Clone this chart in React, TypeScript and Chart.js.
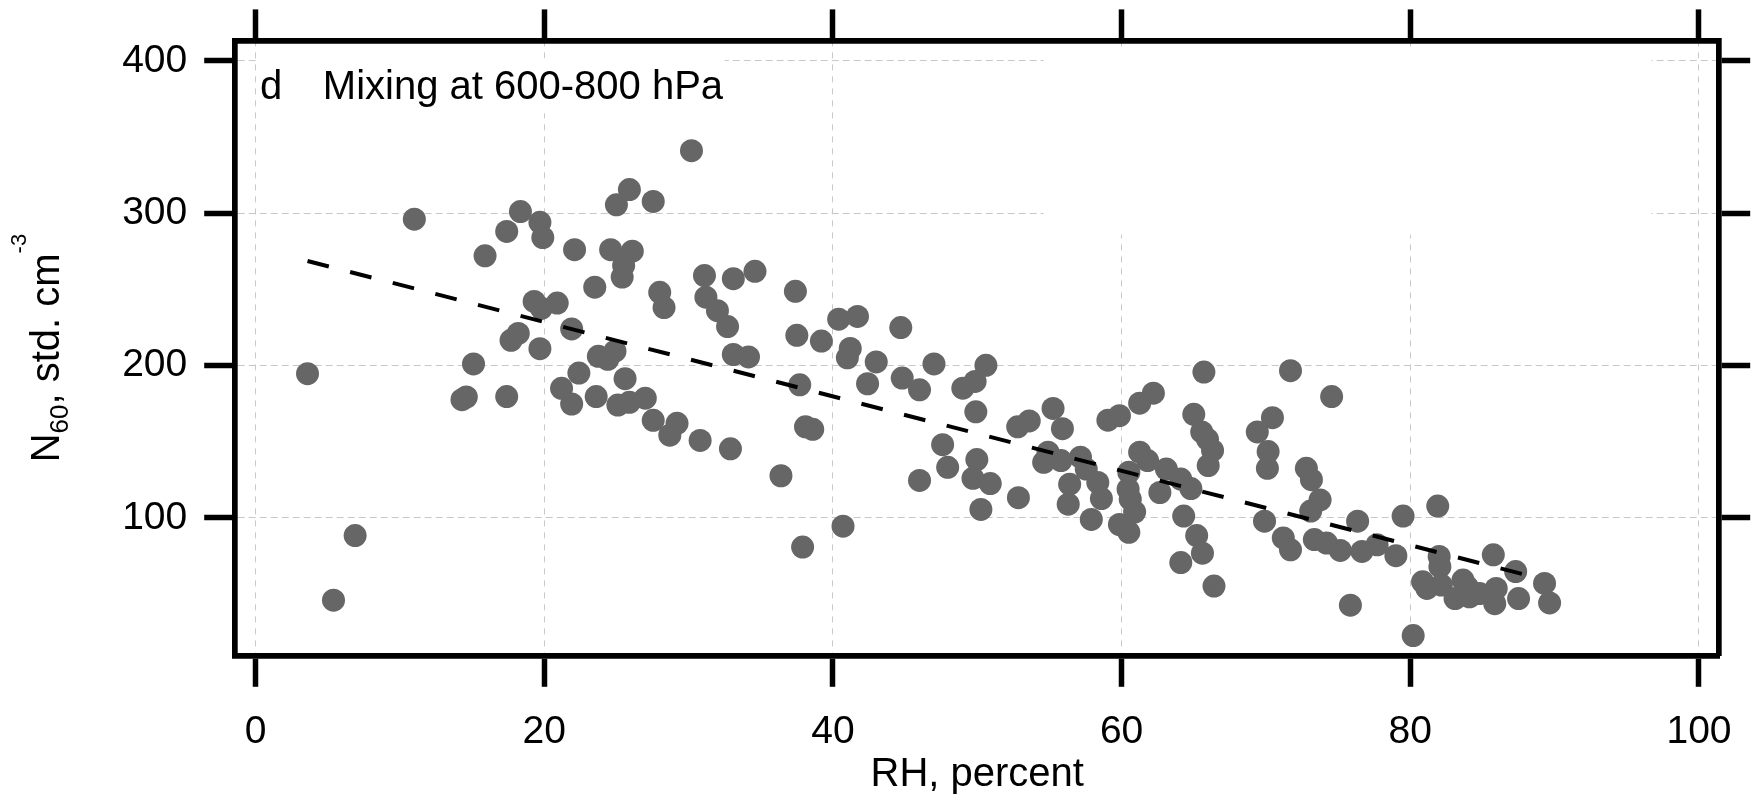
import React, { useEffect, useRef } from 'react';
import { Chart, registerables } from 'chart.js';

Chart.register(...registerables);

// ---- data ----
const rhValues: number[] = [
  11.0, 18.35, 19.7, 19.9, 17.4, 15.9, 22.1, 19.3, 19.8, 20.9, 21.9, 18.2, 17.7, 19.7, 15.1, 3.6, 14.3, 14.6, 17.4, 22.4, 21.2, 21.9, 6.9, 5.4,
  30.2, 25.9, 25.0, 27.55, 24.6, 26.1, 25.5, 25.4, 23.5, 28.0, 28.3, 31.1, 33.1, 34.6, 31.2, 32.0, 32.7, 37.4, 37.5, 39.2, 40.4, 41.7, 44.7, 41.2, 41.0, 43.0, 42.4, 44.8, 46.0,
  23.75, 24.9, 24.4, 25.6, 23.6, 25.1, 25.9, 27.0, 27.55, 28.7, 29.2, 30.8, 32.9, 33.1, 34.15, 37.7, 38.1, 38.6, 36.4, 37.9, 40.7, 46.0,
  47.0, 50.6, 49.85, 49.0, 49.9, 47.6, 47.95, 49.97, 49.7, 50.9, 50.25, 52.85, 52.8, 53.6, 55.25, 55.9, 54.9, 54.6, 55.8, 57.15, 57.55, 56.4, 58.35, 56.3, 58.6, 57.9,
  59.05, 59.85, 61.25, 62.2, 61.25, 61.8, 60.5, 60.45, 60.6, 60.9, 59.85, 60.5, 63.1, 64.1, 64.8, 62.65, 64.3, 65.2, 65.6, 64.1, 66.4, 65.7, 65.0, 65.55, 65.95, 66.3, 66.0,
  71.7, 74.55, 70.45, 69.4, 70.15, 70.1, 72.8, 73.15, 73.75, 73.1, 69.9, 71.2, 71.7, 73.35, 74.2, 75.15, 76.35, 76.65, 77.7, 79.0, 75.85, 79.5, 81.9, 80.2,
  82.0, 82.05, 80.85, 81.15, 82.15, 83.65, 83.1, 84.1, 84.8, 85.75, 85.95, 85.85, 87.5, 87.3, 89.3, 89.65, 83.95,
];
const n60Values: number[] = [
  296, 301, 294, 284, 288, 272, 276, 242, 237.5, 241, 224, 221, 216.5, 211, 201, 194.6, 177.5, 179.3, 179.6, 195, 185, 174.7, 88.3, 45.9,
  341, 315.5, 305.5, 307.7, 276, 275, 265.7, 258, 251.4, 248, 238, 259, 257, 261.8, 244.8, 236, 225.5, 248.7, 219.8, 216, 230.4, 232.2, 224.9, 211.2, 205, 202.3, 188, 191.7, 184,
  206, 209.4, 204, 191.3, 179.6, 174, 175.8, 178.5, 164, 154.2, 162, 150.8, 145.3, 207.2, 205.6, 187.3, 159.7, 158.1, 127.6, 80.8, 94.5, 124.5,
  201, 200.1, 189.5, 185.1, 169.6, 148, 133.1, 138.2, 125.9, 122.5, 105.5, 113.2, 159.7, 163.6, 171.8, 158.5, 143.1, 136.4, 137.6, 139.8, 132, 122.1, 123.2, 108.9, 112.6, 98.9,
  164.1, 167, 175.2, 181.8, 143.1, 137.6, 129.9, 118.8, 112.2, 103.8, 95.6, 90.5, 132, 125.4, 119.2, 116.6, 101.1, 88.3, 76.8, 70.6, 55.2, 195.7, 167.9, 156.4, 151.5, 144.2, 134.3,
  196.6, 179.6, 165.7, 156.4, 143.5, 132.5, 132.5, 125, 111.7, 104.4, 97.8, 86.8, 79, 85.7, 83.4, 78.6, 97.8, 77.9, 82.3, 75.1, 42.6, 101.1, 107.7, 22.7,
  74.6, 67.9, 58, 53.6, 55.8, 59.1, 47, 48.1, 50.3, 75.7, 53.6, 43.6, 47, 64.7, 56.9, 44.1, 54.7,
];

// dashed regression line end points
const fitRh: number[] = [3.6, 89.1];
const fitN60: number[] = [268.6, 59.8];

// axes
const xTickValues: number[] = [0, 20, 40, 60, 80, 100];
const yTickValues: number[] = [100, 200, 300, 400];
const xRange: number[] = [-1.41, 101.4];
const yRange: number[] = [9.4, 413.4];

// texts
const panelLabel = 'd';
const panelTitle = 'Mixing at 600-800 hPa';
const xAxisTitle = 'RH, percent';
const yTitleMain = 'N';
const yTitleSub = '60';
const yTitleRest = ', std. cm';
const yTitleSup = '-3';

// layout / style (in data units where tied to the plot)
const labelAnchor = { x: 0.3, y: 374.9 };
const titleAnchor = { x: 4.66, y: 374.9 };
const gridMasks = [
  { x0: 0.1, x1: 32.5, y0: 365.5, y1: 401.5 },
  { x0: 54.6, x1: 96.7, y0: 285.8, y1: 407.4 },
];

const W = 1754;
const H = 796;
const AREA = { left: 235.2, right: 1725.5, top: 37.8, bottom: 655.8 };
const FAMILY = "'Liberation Sans', Arial, sans-serif";
const FRAME_W = 5.7;
const TICK_W = 5.5;
const TICK_LEN = 31;

export default function App() {
  const ref = useRef<HTMLCanvasElement>(null);

  useEffect(() => {
    const canvas = ref.current;
    if (!canvas) return;

    const maskPlugin = {
      id: 'gridMask',
      beforeDatasetsDraw(chart: any) {
        const { ctx } = chart;
        const x = chart.scales.x;
        const y = chart.scales.y;
        ctx.save();
        ctx.fillStyle = '#ffffff';
        for (const m of gridMasks) {
          const px0 = x.getPixelForValue(m.x0);
          const px1 = x.getPixelForValue(m.x1);
          const py0 = y.getPixelForValue(m.y1);
          const py1 = y.getPixelForValue(m.y0);
          ctx.fillRect(px0, py0, px1 - px0, py1 - py0);
        }
        ctx.restore();
      },
    };

    const textPlugin = {
      id: 'texts',
      afterDraw(chart: any) {
        const { ctx, chartArea } = chart;
        const x = chart.scales.x;
        const y = chart.scales.y;
        ctx.save();
        ctx.fillStyle = '#000';
        ctx.textAlign = 'left';
        ctx.textBaseline = 'alphabetic';
        ctx.font = `40px ${FAMILY}`;
        ctx.fillText(panelLabel, x.getPixelForValue(labelAnchor.x), y.getPixelForValue(labelAnchor.y));
        ctx.fillText(panelTitle, x.getPixelForValue(titleAnchor.x), y.getPixelForValue(titleAnchor.y));

        // rotated y-axis title with subscript and superscript
        const big = `40px ${FAMILY}`;
        const sub = `26px ${FAMILY}`;
        const sup = `22px ${FAMILY}`;
        ctx.font = big;
        const wN = ctx.measureText(yTitleMain).width;
        const wRest = ctx.measureText(yTitleRest).width;
        ctx.font = sub;
        const wSub = ctx.measureText(yTitleSub).width;
        ctx.font = sup;
        const wSup = ctx.measureText(yTitleSup).width;
        const total = wN + wSub + wRest + wSup;
        const cy = (chartArea.top + chartArea.bottom) / 2;
        ctx.translate(59, cy);
        ctx.rotate(-Math.PI / 2);
        let pos = -total / 2;
        ctx.font = big;
        ctx.fillText(yTitleMain, pos, 0);
        pos += wN;
        ctx.font = sub;
        ctx.fillText(yTitleSub, pos, 9);
        pos += wSub;
        ctx.font = big;
        ctx.fillText(yTitleRest, pos, 0);
        pos += wRest;
        ctx.font = sup;
        ctx.fillText(yTitleSup, pos, -33);
        ctx.restore();
      },
    };

    const tickFont = { family: FAMILY, size: 39 };
    const mainGrid = {
      color: '#c8c8c8',
      lineWidth: 1,
      drawTicks: true,
      tickColor: '#000',
      tickWidth: TICK_W,
      tickLength: TICK_LEN,
    };
    const sideGrid = { ...mainGrid, drawOnChartArea: false };

    const chart = new Chart(canvas, {
      type: 'scatter',
      data: {
        datasets: [
          {
            type: 'line',
            data: fitRh.map((v, i) => ({ x: v, y: fitN60[i] })),
            borderColor: '#000',
            borderWidth: 4,
            borderDash: [22, 22],
            borderCapStyle: 'butt',
            pointRadius: 0,
            fill: false,
            showLine: true,
            order: 0,
          } as any,
          {
            type: 'scatter',
            data: rhValues.map((v, i) => ({ x: v, y: n60Values[i] })),
            backgroundColor: '#666666',
            borderWidth: 0,
            pointRadius: 11.5,
            pointHoverRadius: 11.5,
            order: 1,
          } as any,
        ],
      },
      options: {
        animation: false,
        responsive: false,
        devicePixelRatio: 1,
        events: [],
        layout: { padding: 0 },
        plugins: { legend: { display: false }, tooltip: { enabled: false } },
        scales: {
          x: {
            type: 'linear',
            position: 'bottom',
            min: xRange[0],
            max: xRange[1],
            afterBuildTicks: (s: any) => { s.ticks = xTickValues.map((v) => ({ value: v })); },
            afterFit: (s: any) => { s.height = H - AREA.bottom; },
            grid: mainGrid,
            border: { display: true, color: '#000', width: FRAME_W, dash: [6, 6] },
            ticks: { color: '#000', font: tickFont, padding: 22, maxRotation: 0, autoSkip: false },
            title: { display: true, text: xAxisTitle, color: '#000', font: { family: FAMILY, size: 40 }, padding: { top: 0, bottom: -3 } },
          },
          x2: {
            type: 'linear',
            position: 'top',
            min: xRange[0],
            max: xRange[1],
            afterBuildTicks: (s: any) => { s.ticks = xTickValues.map((v) => ({ value: v })); },
            afterFit: (s: any) => { s.height = AREA.top; },
            grid: sideGrid,
            border: { display: true, color: '#000', width: FRAME_W },
            ticks: { display: false },
          },
          y: {
            type: 'linear',
            position: 'left',
            min: yRange[0],
            max: yRange[1],
            afterBuildTicks: (s: any) => { s.ticks = yTickValues.map((v) => ({ value: v })); },
            afterFit: (s: any) => { s.width = AREA.left; },
            grid: mainGrid,
            border: { display: true, color: '#000', width: FRAME_W, dash: [7, 4] },
            ticks: { color: '#000', font: tickFont, padding: 17, autoSkip: false },
          },
          y2: {
            type: 'linear',
            position: 'right',
            min: yRange[0],
            max: yRange[1],
            afterBuildTicks: (s: any) => { s.ticks = yTickValues.map((v) => ({ value: v })); },
            afterFit: (s: any) => { s.width = W - AREA.right; },
            grid: sideGrid,
            border: { display: true, color: '#000', width: FRAME_W },
            ticks: { display: false },
          },
        },
      } as any,
      plugins: [maskPlugin, textPlugin],
    });

    return () => chart.destroy();
  }, []);

  return (
    <canvas
      ref={ref}
      width={W}
      height={H}
      style={{ position: 'fixed', left: 0, top: 0, width: W, height: H, display: 'block' }}
    />
  );
}
